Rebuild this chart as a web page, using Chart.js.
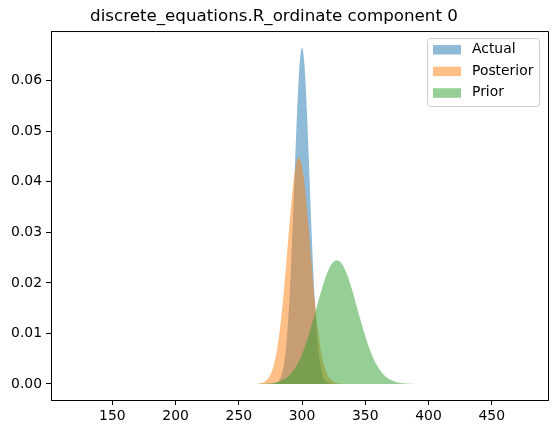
<!DOCTYPE html>
<html>
<head>
<meta charset="utf-8">
<script src="https://cdn.jsdelivr.net/npm/chart.js@4/dist/chart.umd.min.js"></script>
<style>
  html, body { margin: 0; padding: 0; background: #fff; }
  #wrap { width: 556px; height: 434px; }
</style>
</head>
<body>
<div id="wrap"><canvas id="c"></canvas></div>
<script>
// values
const titleText = 'discrete_equations.R_ordinate component 0';
const seriesNames = ['Actual', 'Posterior', 'Prior'];

const actualX = [276, 278, 280, 282, 284, 286, 288, 290, 292, 294, 296, 298, 300,
	302, 304, 306, 308, 310, 312, 314, 316, 318, 320, 322, 324];
const actualY = [0.00002, 0.00008, 0.00026, 0.00074, 0.0019, 0.0044, 0.0090, 0.0166, 0.0273, 0.0403, 0.0532, 0.0629, 0.0665,
	0.0629, 0.0532, 0.0403, 0.0273, 0.0166, 0.0090, 0.0044, 0.0019, 0.00074, 0.00026, 0.00008, 0.00002];

const posteriorX = [262, 265, 268, 271, 274, 277, 280, 283, 286, 289, 292, 295, 297.5,
	301, 304, 307, 310, 313, 316, 319, 322, 325, 328, 331, 334];
const posteriorY = [0.00002, 0.00006, 0.00018, 0.00053, 0.00137, 0.00316, 0.00648, 0.01189, 0.01944, 0.02839, 0.03701, 0.04307, 0.0448,
	0.04147, 0.03432, 0.02534, 0.01671, 0.00983, 0.00516, 0.00242, 0.00101, 0.00038, 0.00013, 0.00004, 0.00001];

const priorX = [255, 260, 265, 270, 275, 280, 285, 290, 295, 300, 305, 310, 315, 320, 324, 327.5,
	331, 335, 340, 345, 350, 355, 360, 365, 370, 375, 380, 385, 390, 395];
const priorY = [0.000001, 0.000005, 0.000016, 0.000049, 0.000137, 0.000351, 0.000818, 0.00174, 0.00336, 0.0059, 0.00945, 0.01377, 0.01826, 0.02204, 0.02394, 0.0245,
	0.02394, 0.02204, 0.01826, 0.01377, 0.00945, 0.0059, 0.00336, 0.00174, 0.000818, 0.000351, 0.000137, 0.000049, 0.000016, 0.000005];

const xTicks = [150, 200, 250, 300, 350, 400, 450];
const yTicks = [0, 0.01, 0.02, 0.03, 0.04, 0.05, 0.06];

const colors = ['rgba(31,119,180,0.5)', 'rgba(255,127,14,0.5)', 'rgba(44,160,44,0.5)'];
const FONT = 'DejaVu Sans';

const toPoints = (xs, ys) => xs.map((x, i) => ({ x: x, y: ys[i] }));
const allX = [actualX, posteriorX, priorX];
const allY = [actualY, posteriorY, priorY];

// top/right spines + boxed legend, matplotlib style
const framePlugin = {
	id: 'frame',
	afterDraw(chart) {
		const { ctx, chartArea: a } = chart;
		ctx.save();
		ctx.strokeStyle = '#000';
		ctx.lineWidth = 1;
		ctx.beginPath();
		ctx.moveTo(a.left, a.top + 0.5);
		ctx.lineTo(a.right + 0.5, a.top + 0.5);
		ctx.lineTo(a.right + 0.5, a.bottom);
		ctx.stroke();

		const w = 112, h = 68;
		const bx = a.right - 9 - w, by = a.top + 7;
		ctx.fillStyle = 'rgba(255,255,255,0.8)';
		ctx.strokeStyle = '#cccccc';
		ctx.beginPath();
		ctx.roundRect(bx + 0.5, by + 0.5, w, h, 3);
		ctx.fill();
		ctx.stroke();

		ctx.font = '13.9px "' + FONT + '"';
		ctx.textBaseline = 'middle';
		ctx.textAlign = 'left';
		seriesNames.forEach((name, i) => {
			const cy = by + 11.5 + i * 21.6;
			ctx.fillStyle = colors[i];
			ctx.fillRect(bx + 6, cy - 4.5, 28, 9.5);
			ctx.fillStyle = '#000';
			ctx.fillText(name, bx + 45, cy);
		});
		ctx.restore();
	}
};

new Chart(document.getElementById('c'), {
	type: 'line',
	data: {
		datasets: seriesNames.map((name, i) => ({
			label: name,
			data: toPoints(allX[i], allY[i]),
			backgroundColor: colors[i],
			borderWidth: 0,
			pointRadius: 0,
			fill: 'origin',
			cubicInterpolationMode: 'monotone',
			order: seriesNames.length - i, // later series painted on top, like matplotlib
		})),
	},
	options: {
		responsive: true,
		maintainAspectRatio: false,
		animation: false,
		layout: { padding: { left: 0, right: 8, top: 0, bottom: 0 } },
		plugins: {
			legend: { display: false },
			tooltip: { enabled: false },
			title: {
				display: true,
				text: titleText,
				color: '#000',
				font: { family: FONT, size: 16.7, weight: 'normal' },
				padding: { top: 7, bottom: 4 },
			},
		},
		scales: {
			x: {
				type: 'linear',
				min: 101.5,
				max: 494.5,
				afterBuildTicks: axis => { axis.ticks = xTicks.map(v => ({ value: v })); },
				afterFit: axis => { axis.height = 34; },
				grid: { drawOnChartArea: false, drawTicks: true, tickLength: 5, tickColor: '#000' },
				border: { display: true, color: '#000' },
				ticks: { color: '#000', padding: 3, maxRotation: 0, font: { family: FONT, size: 13.9 } },
			},
			y: {
				min: -0.00317,
				max: 0.06983,
				afterBuildTicks: axis => { axis.ticks = yTicks.map(v => ({ value: v })); },
				afterFit: axis => { axis.width = 51; },
				grid: { drawOnChartArea: false, drawTicks: true, tickLength: 5, tickColor: '#000' },
				border: { display: true, color: '#000' },
				ticks: { color: '#000', padding: 4, font: { family: FONT, size: 13.9 }, callback: v => v.toFixed(2) },
			},
		},
	},
	plugins: [framePlugin],
});
</script>
</body>
</html>
